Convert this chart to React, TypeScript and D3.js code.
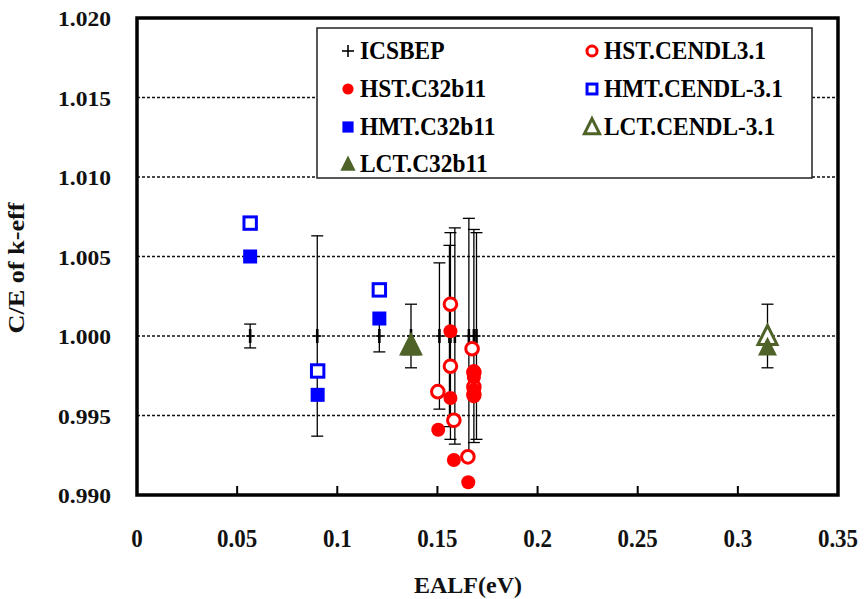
import React from "react";
import * as d3 from "d3";

// ICSBEP benchmarks: drawn at C/E = 1 with the experimental uncertainty
const icsX = [0.0565, 0.09, 0.121, 0.1368, 0.151, 0.156, 0.1565, 0.1587, 0.1657, 0.1682, 0.1695, 0.3148];
const icsErr = [0.00075, 0.0063, 0.001, 0.002, 0.0046, 0.0057, 0.0065, 0.0068, 0.0074, 0.0067, 0.0065, 0.002];

const hstCendlX = [0.1502, 0.1565, 0.1565, 0.1582, 0.1652, 0.1673, 0.1682, 0.1682, 0.1682];
const hstCendlY = [0.9965, 1.002, 0.9981, 0.9947, 0.9924, 0.9992, 0.9977, 0.9968, 0.9963];
const hstC32X = [0.1504, 0.1565, 0.1565, 0.1582, 0.1654, 0.1682, 0.1682, 0.1682, 0.1682];
const hstC32Y = [0.9941, 1.0003, 0.9961, 0.9922, 0.9908, 0.9978, 0.9974, 0.9966, 0.9962];

const hmtX = [0.0565, 0.0902, 0.121];
const hmtCendlY = [1.0071, 0.9978, 1.0029];
const hmtC32Y = [1.005, 0.9963, 1.0011];

const lctX = [0.1368, 0.3148];
const lctCendlY = [0.9994, 1.0];
const lctC32Y = [0.9993, 0.9993];

const xTicks = [0, 0.05, 0.1, 0.15, 0.2, 0.25, 0.3, 0.35];
const yTicks = [0.99, 0.995, 1.0, 1.005, 1.01, 1.015, 1.02];
const gridTicks = [0.995, 1.0, 1.005, 1.01, 1.015];

const RED = "#ff0000";
const BLUE = "#0000ff";
const OLIVE = "#4f6228";
const FONT = "Liberation Serif, Times New Roman, DejaVu Serif, serif";

const legendItems = [
  { label: "ICSBEP", kind: "plus", color: "#000", col: 0, row: 0 },
  { label: "HST.C32b11", kind: "circle", fill: true, color: RED, col: 0, row: 1 },
  { label: "HMT.C32b11", kind: "square", fill: true, color: BLUE, col: 0, row: 2 },
  { label: "LCT.C32b11", kind: "triangle", fill: true, color: OLIVE, col: 0, row: 3 },
  { label: "HST.CENDL3.1", kind: "circle", fill: false, color: RED, col: 1, row: 0 },
  { label: "HMT.CENDL-3.1", kind: "square", fill: false, color: BLUE, col: 1, row: 1 },
  { label: "LCT.CENDL-3.1", kind: "triangle", fill: false, color: OLIVE, col: 1, row: 2 },
];

const x = d3.scaleLinear().domain([0, 0.35]).range([137, 838]);
const y = d3.scaleLinear().domain([0.99, 1.02]).range([495, 18]);

function Marker({ kind, fill, color, cx, cy, s = 1 }) {
  if (kind === "circle") {
    return fill ? (
      <circle cx={cx} cy={cy} r={7 * s} fill={color} />
    ) : (
      <circle cx={cx} cy={cy} r={6.3 * s} fill="white" stroke={color} strokeWidth={3} />
    );
  }
  if (kind === "square") {
    const h = fill ? 7 * s : 6.2 * s;
    return fill ? (
      <rect x={cx - h} y={cy - h} width={2 * h} height={2 * h} fill={color} />
    ) : (
      <rect x={cx - h} y={cy - h} width={2 * h} height={2 * h} fill="white" stroke={color} strokeWidth={3} />
    );
  }
  if (kind === "triangle") {
    const w = 9.5 * s;
    const hh = 10.5 * s;
    const p = `M${cx},${cy - hh}L${cx + w},${cy + hh * 0.8}L${cx - w},${cy + hh * 0.8}Z`;
    return fill ? (
      <path d={p} fill={color} />
    ) : (
      <path d={p} fill="white" stroke={color} strokeWidth={3} strokeLinejoin="miter" />
    );
  }
  return (
    <g stroke={color} strokeWidth={1.6}>
      <line x1={cx - 6} x2={cx + 6} y1={cy} y2={cy} />
      <line x1={cx} x2={cx} y1={cy - 6} y2={cy + 6} />
    </g>
  );
}

export default function App() {
  const legendColX = [348, 592];
  const legendBase = [59, 97, 135, 172];
  const textStyle = { fontFamily: FONT, fontWeight: "bold" as const };

  return (
    <div style={{ position: "absolute", left: 0, top: 0 }}>
      <svg width={866} height={599} style={{ display: "block", background: "white" }}>
        {/* grid */}
        {gridTicks.map((t) => (
          <line key={t} x1={x(0)} x2={x(0.35)} y1={y(t)} y2={y(t)} stroke="#111" strokeWidth={1.3} strokeDasharray="3,2" />
        ))}

        {/* x ticks (inside) */}
        {xTicks.slice(1, -1).map((t) => (
          <line key={t} x1={x(t)} x2={x(t)} y1={y(0.99)} y2={y(0.99) - 9} stroke="#000" strokeWidth={2} />
        ))}

        {/* legend box */}
        <rect x={317} y={28} width={495} height={150} fill="white" stroke="#222" strokeWidth={1.5} />
        {legendItems.map((d) => {
          const base = legendBase[d.row];
          const mx = legendColX[d.col];
          return (
            <g key={d.label}>
              <Marker kind={d.kind} fill={d.fill} color={d.color} cx={mx} cy={base - 8} s={0.8} />
              <text
                transform={`translate(${mx + 12},${base}) scale(0.9,1)`}
                style={textStyle}
                fontSize={26}
                fill="#000"
              >
                {d.label}
              </text>
            </g>
          );
        })}

        {/* ICSBEP error bars */}
        {icsX.map((v, i) => {
          const cx = x(v);
          const top = y(1 + icsErr[i]);
          const bot = y(1 - icsErr[i]);
          return (
            <g key={i} stroke="#000">
              <line x1={cx} x2={cx} y1={top} y2={bot} strokeWidth={1.3} />
              <line x1={cx - 6} x2={cx + 6} y1={top} y2={top} strokeWidth={1.3} />
              <line x1={cx - 6} x2={cx + 6} y1={bot} y2={bot} strokeWidth={1.3} />
              <line x1={cx} x2={cx} y1={y(1) - 7} y2={y(1) + 7} strokeWidth={2.6} />
              <line x1={cx - 4} x2={cx + 4} y1={y(1)} y2={y(1)} strokeWidth={1.5} />
            </g>
          );
        })}

        {/* HST */}
        {hstCendlX.map((v, i) => (
          <Marker key={"hc" + i} kind="circle" fill={false} color={RED} cx={x(v)} cy={y(hstCendlY[i])} />
        ))}
        {hstC32X.map((v, i) => (
          <Marker key={"hf" + i} kind="circle" fill={true} color={RED} cx={x(v)} cy={y(hstC32Y[i])} />
        ))}

        {/* HMT */}
        {hmtX.map((v, i) => (
          <Marker key={"mc" + i} kind="square" fill={false} color={BLUE} cx={x(v)} cy={y(hmtCendlY[i])} />
        ))}
        {hmtX.map((v, i) => (
          <Marker key={"mf" + i} kind="square" fill={true} color={BLUE} cx={x(v)} cy={y(hmtC32Y[i])} />
        ))}

        {/* LCT */}
        {lctX.map((v, i) => (
          <Marker key={"lc" + i} kind="triangle" fill={false} color={OLIVE} cx={x(v)} cy={y(lctCendlY[i])} />
        ))}
        {lctX.map((v, i) => (
          <Marker key={"lf" + i} kind="triangle" fill={true} color={OLIVE} cx={x(v)} cy={y(lctC32Y[i])} />
        ))}

        {/* frame */}
        <rect x={x(0)} y={y(1.02)} width={x(0.35) - x(0)} height={y(0.99) - y(1.02)} fill="none" stroke="#000" strokeWidth={3.5} />

        {/* y tick labels */}
        {yTicks.map((t) => (
          <text
            key={t}
            transform={`translate(111,${y(t) + 8}) scale(1.07,1)`}
            textAnchor="end"
            style={textStyle}
            fontSize={22}
            fill="#111"
          >
            {d3.format(".3f")(t)}
          </text>
        ))}

        {/* x tick labels */}
        {xTicks.map((t) => (
          <text
            key={t}
            transform={`translate(${x(t)},547) scale(0.92,1)`}
            textAnchor="middle"
            style={textStyle}
            fontSize={25}
            fill="#111"
          >
            {String(t)}
          </text>
        ))}

        {/* axis titles */}
        <text transform="translate(468,593)" textAnchor="middle" style={textStyle} fontSize={24} fill="#111">
          EALF(eV)
        </text>
        <text
          transform="translate(24,268) rotate(-90) scale(1.14,1)"
          textAnchor="middle"
          style={textStyle}
          fontSize={23}
          fill="#111"
        >
          C/E of k-eff
        </text>
      </svg>
    </div>
  );
}
